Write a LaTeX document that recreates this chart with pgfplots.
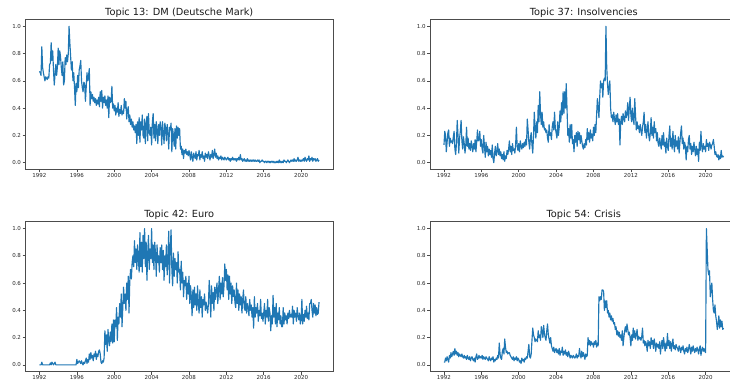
\documentclass[border=0pt]{standalone}
\usepackage{pgfplots}
\pgfplotsset{compat=1.18}
\usepackage{fontspec}
\setmainfont{DejaVu Sans}
\definecolor{mplblue}{HTML}{1F77B4}
\pgfplotsset{
  panel/.style={
    scale only axis, width=307.5pt, height=150pt,
    xmin=1990.504, xmax=2023.413, ymin=-0.05, ymax=1.05,
    xtick={1992,1996,2000,2004,2008,2012,2016,2020},
    ytick={0,0.2,0.4,0.6,0.8,1},
    /pgf/number format/assume math mode=true,
    xticklabel style={/pgf/number format/1000 sep={}, inner sep=0.9pt},
    yticklabel style={/pgf/number format/fixed,/pgf/number format/fixed zerofill,/pgf/number format/precision=1, inner sep=1.5pt},
    tick label style={font=\fontsize{5.5}{6}\selectfont, text=black!85},
    tick align=outside, major tick length=2.8pt,
    tick style={line width=0.6pt, black!70},
    tick pos=left,
    axis line style={line width=0.6pt, black!70},
    title style={font=\fontsize{9.8}{11}\selectfont, anchor=south, inner sep=0pt, yshift=-4.4pt, text=black!90},
  },
  series/.style={mplblue, line width=1.15pt, mark=none, line join=round},
}
\begin{document}
\begin{tikzpicture}[x=1pt,y=1pt]
\useasboundingbox (0,0) rectangle (730,381);
\clip (0,0) rectangle (730,381);
% Topic 13
\begin{axis}[panel, at={(25.5pt,211.5pt)}, anchor=south west, title={Topic 13: DM (Deutsche Mark)}]
\addplot[series] table[header=false, x expr={1992+\coordindex/12}, y index=0, row sep=\\] {
0.67\\0.66\\0.64\\0.85\\0.70\\0.66\\0.63\\0.60\\0.63\\0.62\\0.61\\0.63\\
0.62\\0.72\\0.73\\0.88\\0.75\\0.82\\0.68\\0.57\\0.65\\0.72\\0.64\\0.70\\
0.84\\0.72\\0.82\\0.78\\0.70\\0.64\\0.74\\0.57\\0.60\\0.77\\0.72\\0.79\\
0.74\\0.80\\1.00\\0.88\\0.78\\0.68\\0.74\\0.60\\0.66\\0.55\\0.42\\0.58\\
0.52\\0.64\\0.55\\0.68\\0.71\\0.75\\0.60\\0.55\\0.52\\0.59\\0.58\\0.45\\
0.55\\0.66\\0.60\\0.64\\0.69\\0.42\\0.52\\0.47\\0.50\\0.45\\0.48\\0.44\\
0.47\\0.42\\0.46\\0.43\\0.48\\0.41\\0.52\\0.45\\0.53\\0.40\\0.48\\0.44\\
0.49\\0.42\\0.46\\0.40\\0.49\\0.33\\0.48\\0.44\\0.45\\0.56\\0.40\\0.43\\
0.38\\0.42\\0.35\\0.40\\0.37\\0.44\\0.34\\0.39\\0.36\\0.42\\0.35\\0.38\\
0.36\\0.47\\0.40\\0.45\\0.32\\0.38\\0.41\\0.30\\0.35\\0.28\\0.32\\0.26\\
0.30\\0.24\\0.27\\0.22\\0.28\\0.14\\0.30\\0.20\\0.33\\0.15\\0.30\\0.24\\
0.35\\0.20\\0.18\\0.32\\0.14\\0.28\\0.34\\0.16\\0.36\\0.22\\0.20\\0.26\\
0.13\\0.30\\0.36\\0.18\\0.28\\0.16\\0.30\\0.24\\0.14\\0.28\\0.20\\0.30\\
0.26\\0.13\\0.30\\0.22\\0.14\\0.29\\0.25\\0.16\\0.28\\0.22\\0.10\\0.26\\
0.24\\0.29\\0.08\\0.25\\0.20\\0.12\\0.25\\0.10\\0.27\\0.18\\0.26\\0.20\\
0.25\\0.10\\0.12\\0.06\\0.10\\0.03\\0.09\\0.07\\0.10\\0.06\\0.08\\0.05\\
0.09\\0.06\\0.02\\0.08\\0.04\\0.01\\0.07\\0.05\\0.03\\0.08\\0.02\\0.06\\
0.05\\0.09\\0.02\\0.06\\0.04\\0.08\\0.03\\0.05\\0.01\\0.07\\0.04\\0.06\\
0.03\\0.08\\0.05\\0.02\\0.06\\0.04\\0.09\\0.03\\0.06\\0.10\\0.04\\0.07\\
0.03\\0.05\\0.02\\0.04\\0.03\\0.05\\0.02\\0.04\\0.03\\0.02\\0.04\\0.03\\
0.02\\0.03\\0.04\\0.02\\0.03\\0.01\\0.03\\0.02\\0.04\\0.02\\0.03\\0.02\\
0.03\\0.01\\0.03\\0.02\\0.04\\0.02\\0.06\\0.02\\0.03\\0.01\\0.02\\0.03\\
0.01\\0.02\\0.01\\0.03\\0.01\\0.02\\0.01\\0.02\\0.01\\0.02\\0.01\\0.02\\
0.01\\0.02\\0.01\\0.01\\0.02\\0.01\\0.02\\0.00\\0.01\\0.01\\0.02\\0.01\\
0.01\\0.00\\0.01\\0.01\\0.00\\0.01\\0.01\\0.00\\0.01\\0.00\\0.01\\0.01\\
0.00\\0.01\\0.00\\0.00\\0.01\\0.00\\0.01\\0.00\\0.02\\0.00\\0.01\\0.00\\
0.01\\0.00\\0.02\\0.01\\0.01\\0.00\\0.01\\0.02\\0.01\\0.00\\0.01\\0.02\\
0.01\\0.02\\0.01\\0.03\\0.01\\0.02\\0.01\\0.02\\0.04\\0.01\\0.02\\0.01\\
0.02\\0.01\\0.02\\0.03\\0.01\\0.04\\0.02\\0.01\\0.03\\0.02\\0.05\\0.01\\
0.03\\0.02\\0.04\\0.01\\0.03\\0.02\\0.03\\0.01\\0.02\\0.03\\0.01\\0.02\\
};
\end{axis}
% Topic 37
\begin{axis}[panel, at={(430pt,211.5pt)}, anchor=south west, title={Topic 37: Insolvencies}]
\addplot[series] table[header=false, x expr={1992+\coordindex/12}, y index=0, row sep=\\] {
0.13\\0.23\\0.20\\0.08\\0.15\\0.22\\0.24\\0.12\\0.18\\0.15\\0.16\\0.14\\
0.19\\0.23\\0.10\\0.06\\0.14\\0.31\\0.20\\0.07\\0.18\\0.23\\0.31\\0.16\\
0.10\\0.19\\0.14\\0.07\\0.13\\0.26\\0.12\\0.18\\0.10\\0.14\\0.09\\0.16\\
0.12\\0.08\\0.14\\0.10\\0.17\\0.08\\0.15\\0.24\\0.16\\0.17\\0.23\\0.12\\
0.17\\0.10\\0.07\\0.20\\0.12\\0.04\\0.15\\0.08\\0.12\\0.05\\0.10\\0.06\\
0.09\\0.04\\0.13\\0.03\\0.00\\0.07\\0.12\\0.05\\0.08\\0.14\\0.06\\0.10\\
0.05\\0.08\\0.03\\0.06\\0.02\\0.08\\0.01\\0.05\\0.03\\0.09\\0.06\\0.10\\
0.16\\0.08\\0.12\\0.06\\0.14\\0.09\\0.10\\0.07\\0.13\\0.26\\0.12\\0.09\\
0.14\\0.08\\0.16\\0.12\\0.10\\0.14\\0.11\\0.15\\0.12\\0.17\\0.13\\0.32\\
0.24\\0.15\\0.10\\0.18\\0.22\\0.13\\0.07\\0.20\\0.37\\0.25\\0.18\\0.30\\
0.22\\0.42\\0.30\\0.52\\0.35\\0.28\\0.37\\0.26\\0.30\\0.24\\0.25\\0.22\\
0.24\\0.18\\0.15\\0.28\\0.20\\0.22\\0.17\\0.26\\0.30\\0.24\\0.37\\0.25\\
0.22\\0.18\\0.30\\0.20\\0.26\\0.38\\0.30\\0.44\\0.35\\0.52\\0.36\\0.52\\
0.40\\0.58\\0.40\\0.20\\0.25\\0.15\\0.28\\0.18\\0.28\\0.14\\0.17\\0.08\\
0.20\\0.15\\0.22\\0.12\\0.23\\0.17\\0.22\\0.14\\0.20\\0.16\\0.12\\0.10\\
0.14\\0.11\\0.17\\0.13\\0.25\\0.17\\0.22\\0.15\\0.24\\0.18\\0.21\\0.16\\
0.26\\0.20\\0.28\\0.22\\0.35\\0.47\\0.40\\0.33\\0.48\\0.60\\0.55\\0.58\\
0.48\\0.60\\0.62\\0.60\\1.00\\0.70\\0.58\\0.50\\0.56\\0.60\\0.40\\0.33\\
0.35\\0.30\\0.37\\0.32\\0.28\\0.35\\0.30\\0.36\\0.28\\0.32\\0.13\\0.30\\
0.34\\0.28\\0.36\\0.32\\0.30\\0.38\\0.33\\0.36\\0.44\\0.31\\0.40\\0.48\\
0.35\\0.30\\0.40\\0.32\\0.28\\0.47\\0.35\\0.24\\0.30\\0.25\\0.27\\0.22\\
0.28\\0.24\\0.20\\0.26\\0.30\\0.37\\0.22\\0.28\\0.18\\0.24\\0.30\\0.20\\
0.16\\0.22\\0.33\\0.20\\0.26\\0.18\\0.30\\0.22\\0.25\\0.16\\0.22\\0.14\\
0.12\\0.18\\0.14\\0.10\\0.20\\0.13\\0.22\\0.12\\0.15\\0.07\\0.18\\0.12\\
0.09\\0.20\\0.27\\0.12\\0.18\\0.10\\0.23\\0.14\\0.08\\0.20\\0.12\\0.16\\
0.10\\0.19\\0.07\\0.15\\0.22\\0.27\\0.14\\0.18\\0.10\\0.15\\0.12\\0.02\\
0.12\\0.08\\0.17\\0.20\\0.10\\0.14\\0.06\\0.12\\0.08\\0.15\\0.10\\0.05\\
0.12\\0.06\\0.10\\0.01\\0.15\\0.09\\0.23\\0.12\\0.08\\0.14\\0.10\\0.12\\
0.08\\0.17\\0.12\\0.14\\0.09\\0.15\\0.13\\0.10\\0.13\\0.14\\0.17\\0.12\\
0.06\\0.08\\0.05\\0.04\\0.06\\0.02\\0.05\\0.03\\0.09\\0.04\\0.05\\0.04\\
};
\end{axis}
% Topic 42
\begin{axis}[panel, at={(25.5pt,9.3pt)}, anchor=south west, title={Topic 42: Euro}]
\addplot[series] table[header=false, x expr={1992+\coordindex/12}, y index=0, row sep=\\] {
0\\0\\0\\0.02\\0\\0\\0\\0\\0\\0\\0\\0\\
0\\0\\0.015\\0\\0.02\\0.01\\0\\0.01\\0.02\\0\\0\\0\\
0\\0\\0\\0\\0\\0\\0\\0\\0\\0\\0\\0\\
0\\0\\0\\0\\0\\0\\0\\0\\0\\0\\0\\0\\
0.04\\0.01\\0.02\\0.03\\0.02\\0.01\\0.03\\0.01\\0.00\\0.02\\0.01\\0.03\\
0.05\\0.01\\0.04\\0.02\\0.08\\0.04\\0.09\\0.05\\0.07\\0.03\\0.08\\0.06\\
0.10\\0.04\\0.08\\0.06\\0.10\\0.11\\0.08\\0.02\\0.01\\0.03\\0.02\\0.05\\
0.25\\0.15\\0.22\\0.10\\0.26\\0.18\\0.14\\0.24\\0.17\\0.30\\0.16\\0.33\\
0.17\\0.33\\0.28\\0.42\\0.18\\0.35\\0.30\\0.45\\0.35\\0.52\\0.28\\0.42\\
0.57\\0.45\\0.52\\0.40\\0.60\\0.48\\0.65\\0.38\\0.62\\0.70\\0.63\\0.75\\
0.80\\0.72\\0.91\\0.75\\0.85\\0.70\\0.88\\0.78\\0.68\\0.97\\0.72\\0.90\\
0.68\\0.95\\0.78\\1.00\\0.72\\0.90\\0.62\\0.82\\0.95\\0.70\\0.85\\0.78\\
1.00\\0.75\\0.88\\0.70\\0.90\\0.82\\0.65\\0.88\\0.75\\0.80\\0.68\\0.86\\
0.75\\0.88\\0.70\\0.84\\0.62\\0.80\\0.72\\0.88\\0.66\\0.78\\0.98\\0.60\\
0.85\\0.99\\0.70\\0.58\\0.82\\0.65\\0.78\\0.70\\0.75\\0.60\\0.83\\0.68\\
0.70\\0.55\\0.76\\0.60\\0.68\\0.50\\0.62\\0.58\\0.65\\0.48\\0.60\\0.52\\
0.65\\0.45\\0.58\\0.50\\0.36\\0.55\\0.42\\0.57\\0.44\\0.52\\0.40\\0.58\\
0.45\\0.38\\0.55\\0.42\\0.50\\0.35\\0.48\\0.44\\0.52\\0.40\\0.46\\0.42\\
0.38\\0.45\\0.62\\0.50\\0.35\\0.58\\0.45\\0.53\\0.40\\0.57\\0.48\\0.55\\
0.60\\0.45\\0.55\\0.65\\0.48\\0.60\\0.52\\0.64\\0.50\\0.58\\0.74\\0.62\\
0.70\\0.55\\0.66\\0.48\\0.65\\0.52\\0.60\\0.45\\0.58\\0.50\\0.55\\0.46\\
0.42\\0.60\\0.45\\0.55\\0.40\\0.52\\0.44\\0.50\\0.38\\0.48\\0.55\\0.42\\
0.40\\0.50\\0.38\\0.45\\0.42\\0.36\\0.48\\0.40\\0.44\\0.35\\0.42\\0.27\\
0.50\\0.35\\0.42\\0.38\\0.45\\0.32\\0.40\\0.36\\0.48\\0.34\\0.38\\0.32\\
0.38\\0.45\\0.30\\0.40\\0.35\\0.48\\0.32\\0.42\\0.38\\0.25\\0.36\\0.30\\
0.51\\0.35\\0.42\\0.30\\0.45\\0.28\\0.38\\0.33\\0.42\\0.30\\0.36\\0.28\\
0.28\\0.42\\0.30\\0.38\\0.33\\0.36\\0.30\\0.38\\0.34\\0.40\\0.35\\0.37\\
0.35\\0.43\\0.30\\0.40\\0.35\\0.38\\0.32\\0.42\\0.36\\0.33\\0.38\\0.30\\
0.33\\0.48\\0.30\\0.37\\0.32\\0.40\\0.35\\0.43\\0.34\\0.38\\0.33\\0.45\\
0.45\\0.48\\0.40\\0.35\\0.45\\0.38\\0.44\\0.36\\0.42\\0.37\\0.38\\0.46\\
};
\end{axis}
% Topic 54
\begin{axis}[panel, at={(430pt,9.3pt)}, anchor=south west, title={Topic 54: Crisis}]
\addplot[series] table[header=false, x expr={1992+\coordindex/12}, y index=0, row sep=\\] {
0.02\\0.02\\0.05\\0.03\\0.06\\0.04\\0.02\\0.07\\0.05\\0.09\\0.06\\0.08\\
0.10\\0.07\\0.12\\0.08\\0.10\\0.07\\0.09\\0.06\\0.08\\0.07\\0.06\\0.08\\
0.06\\0.05\\0.07\\0.05\\0.06\\0.04\\0.07\\0.05\\0.04\\0.06\\0.03\\0.05\\
0.06\\0.04\\0.03\\0.05\\0.02\\0.06\\0.08\\0.04\\0.05\\0.07\\0.05\\0.06\\
0.05\\0.07\\0.04\\0.06\\0.05\\0.04\\0.06\\0.05\\0.04\\0.03\\0.06\\0.04\\
0.03\\0.05\\0.04\\0.06\\0.02\\0.04\\0.03\\0.05\\0.04\\0.07\\0.05\\0.16\\
0.08\\0.05\\0.04\\0.10\\0.12\\0.08\\0.19\\0.13\\0.09\\0.10\\0.08\\0.09\\
0.09\\0.07\\0.06\\0.05\\0.04\\0.06\\0.03\\0.05\\0.04\\0.06\\0.03\\0.05\\
0.04\\0.02\\0.03\\0.01\\0.05\\0.03\\0.04\\0.02\\0.05\\0.04\\0.06\\0.05\\
0.10\\0.15\\0.06\\0.05\\0.08\\0.18\\0.27\\0.22\\0.20\\0.17\\0.19\\0.18\\
0.17\\0.25\\0.20\\0.22\\0.18\\0.28\\0.25\\0.20\\0.29\\0.23\\0.20\\0.18\\
0.25\\0.30\\0.22\\0.19\\0.16\\0.20\\0.14\\0.12\\0.10\\0.13\\0.09\\0.11\\
0.12\\0.09\\0.11\\0.08\\0.12\\0.07\\0.10\\0.09\\0.13\\0.07\\0.10\\0.08\\
0.11\\0.07\\0.09\\0.06\\0.10\\0.08\\0.05\\0.07\\0.06\\0.05\\0.07\\0.06\\
0.05\\0.06\\0.08\\0.05\\0.07\\0.06\\0.12\\0.08\\0.05\\0.10\\0.06\\0.09\\
0.07\\0.04\\0.08\\0.06\\0.07\\0.20\\0.15\\0.18\\0.14\\0.17\\0.15\\0.16\\
0.13\\0.17\\0.15\\0.18\\0.13\\0.16\\0.14\\0.50\\0.47\\0.50\\0.48\\0.55\\
0.55\\0.54\\0.40\\0.47\\0.42\\0.47\\0.38\\0.40\\0.35\\0.38\\0.33\\0.36\\
0.32\\0.34\\0.30\\0.31\\0.26\\0.28\\0.22\\0.25\\0.21\\0.24\\0.20\\0.22\\
0.18\\0.25\\0.14\\0.20\\0.25\\0.28\\0.24\\0.30\\0.26\\0.22\\0.24\\0.20\\
0.14\\0.22\\0.18\\0.27\\0.20\\0.25\\0.19\\0.22\\0.26\\0.18\\0.21\\0.19\\
0.20\\0.18\\0.21\\0.27\\0.16\\0.18\\0.14\\0.17\\0.15\\0.10\\0.18\\0.14\\
0.17\\0.12\\0.20\\0.15\\0.18\\0.12\\0.19\\0.15\\0.10\\0.16\\0.13\\0.15\\
0.12\\0.17\\0.08\\0.14\\0.18\\0.12\\0.20\\0.15\\0.10\\0.16\\0.12\\0.23\\
0.14\\0.18\\0.12\\0.17\\0.10\\0.15\\0.19\\0.12\\0.14\\0.11\\0.15\\0.13\\
0.12\\0.10\\0.14\\0.12\\0.09\\0.13\\0.11\\0.14\\0.10\\0.08\\0.12\\0.10\\
0.13\\0.09\\0.11\\0.15\\0.12\\0.08\\0.13\\0.10\\0.14\\0.11\\0.09\\0.12\\
0.10\\0.13\\0.11\\0.08\\0.12\\0.14\\0.07\\0.11\\0.13\\0.10\\0.12\\0.10\\
0.09\\1.00\\0.85\\0.70\\0.66\\0.69\\0.50\\0.55\\0.60\\0.48\\0.40\\0.38\\
0.44\\0.36\\0.32\\0.26\\0.30\\0.36\\0.27\\0.33\\0.28\\0.32\\0.26\\0.27\\
};
\end{axis}
\end{tikzpicture}
\end{document}
